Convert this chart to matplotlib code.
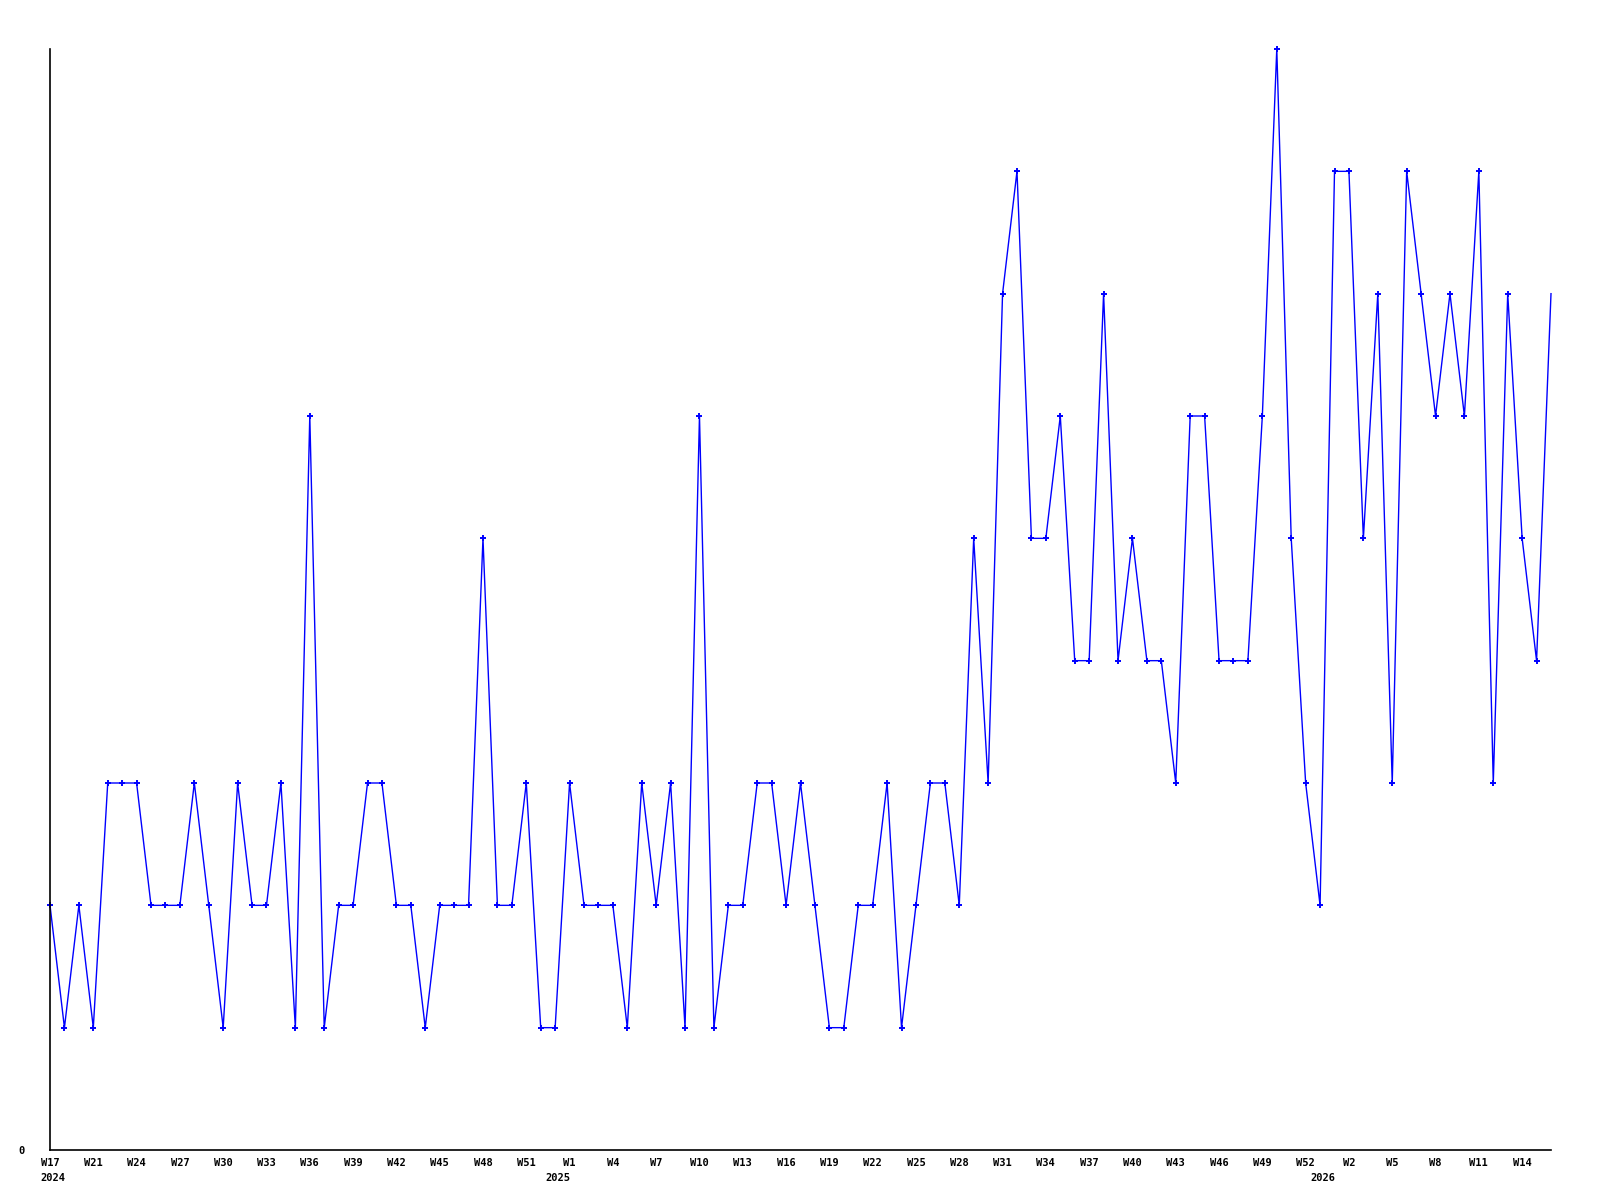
import matplotlib
matplotlib.use("Agg")
import matplotlib.pyplot as plt
import matplotlib.transforms as mtransforms

values = [2, 1, 2, 1, 3, 3, 3, 2, 2, 2,
          3, 2, 1, 3, 2, 2, 3, 1, 6, 1,
          2, 2, 3, 3, 2, 2, 1, 2, 2, 2,
          5, 2, 2, 3, 1, 1, 3, 2, 2, 2,
          1, 3, 2, 3, 1, 6, 1, 2, 2, 3,
          3, 2, 3, 2, 1, 1, 2, 2, 3, 1,
          2, 3, 3, 2, 5, 3, 7, 8, 5, 5,
          6, 4, 4, 7, 4, 5, 4, 4, 3, 6,
          6, 4, 4, 4, 6, 9, 5, 3, 2, 8,
          8, 5, 7, 3, 8, 7, 6, 7, 6, 8,
          3, 7, 5, 4, 7]

week_labels = ["W17", "W21", "W24", "W27", "W30", "W33", "W36", "W39", "W42",
               "W45", "W48", "W51", "W1", "W4", "W7", "W10", "W13", "W16",
               "W19", "W22", "W25", "W28", "W31", "W34", "W37", "W40", "W43",
               "W46", "W49", "W52", "W2", "W5", "W8", "W11", "W14"]
year_labels = ["2024", "2025", "2026"]
year_positions = [0.2, 35.2, 88.2]

fig = plt.figure(figsize=(16, 12), dpi=100)
ax = fig.add_axes([50 / 1600, 50 / 1200, 1501 / 1600, 1101 / 1200])

x = list(range(len(values)))
ax.plot(x, values, color="#0000ff", lw=1.0, marker="+", ms=4, mew=1.4,
        markevery=list(range(len(values) - 1)), clip_on=False)

ax.set_xlim(0, len(values) - 1)
ax.set_ylim(0, 9)

for s in ["top", "right"]:
    ax.spines[s].set_visible(False)
for s in ["left", "bottom"]:
    ax.spines[s].set_linewidth(1.2)
    ax.spines[s].set_color("black")

font = dict(family="DejaVu Sans Mono", weight="bold", size=7.5)

ax.set_yticks([0])
ax.set_yticklabels(["0"], **font)
ax.tick_params(axis="y", length=0, pad=18)

ax.set_xticks(list(range(0, 3 * len(week_labels), 3)))
ax.set_xticklabels(week_labels, **font)
ax.tick_params(axis="x", length=0, pad=6)

trans = mtransforms.blended_transform_factory(ax.transData, ax.transAxes)
for pos, lab in zip(year_positions, year_labels):
    ax.text(pos, -0.0255, lab, transform=trans, ha="center", va="center", **font)

fig.savefig("out.png", dpi=100, facecolor="white")
